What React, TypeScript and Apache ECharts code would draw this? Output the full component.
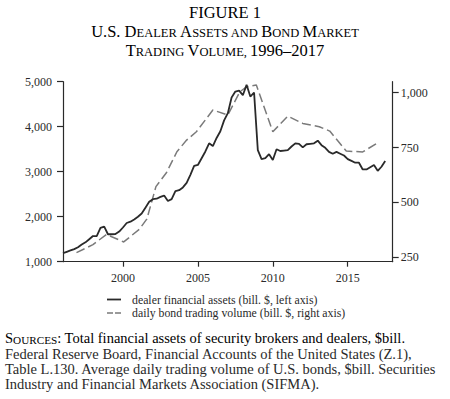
import React, { useEffect, useRef } from "react";
import * as echarts from "echarts";

// Dealer financial assets (bill. $), quarterly from 1996 Q1
const dealerStartYear = 1996;
const dealerAssets = [
  1190, 1220, 1250, 1280,
  1320, 1380, 1430, 1500,
  1570, 1570, 1750, 1780,
  1610, 1610, 1615, 1670,
  1760, 1860, 1890, 1940,
  2000, 2070, 2200, 2330,
  2390, 2400, 2440, 2470,
  2350, 2390, 2570, 2590,
  2650, 2750, 2930, 3130,
  3150, 3300, 3450, 3630,
  3570, 3750, 3900, 4140,
  4300, 4650, 4780, 4800,
  4700, 4930, 4670, 4760,
  3480, 3280, 3300, 3390,
  3260, 3500, 3460, 3470,
  3480, 3560, 3630, 3620,
  3540, 3610, 3620, 3630,
  3690, 3590, 3530, 3440,
  3400, 3440, 3400, 3360,
  3280, 3240, 3200, 3200,
  3050, 3050, 3100, 3150,
  3020, 3110, 3240,
];

// Daily bond trading volume (bill. $)
const volumeYears = [
  1996.9, 1998.0, 1998.9, 2000.05, 2001.1, 2001.6, 2002.2, 2002.9, 2003.6,
  2004.25, 2004.9, 2006.0, 2007.0, 2007.8, 2008.25, 2008.9, 2010.0, 2011.0,
  2012.0, 2013.1, 2013.8, 2014.9, 2016.0, 2017.1,
];
const volumeValues = [
  271, 308, 354, 320, 378, 425, 572, 635, 731,
  784, 822, 921, 898, 1004, 1027, 1035, 822, 893,
  860, 845, 825, 734, 730, 776,
];

const xTicks = [2000, 2005, 2010, 2015];
const rightTicks = [250, 500, 750, 1000];

const titleLines = ["FIGURE 1", "U.S. Dealer Assets and Bond Market", "Trading Volume, 1996–2017"];
const legendLabels = [
  "dealer financial assets (bill. $, left axis)",
  "daily bond trading volume (bill. $, right axis)",
];
const sourceLines = [
  "Sources: Total financial assets of security brokers and dealers, $bill.",
  "Federal Reserve Board, Financial Accounts of the United States (Z.1),",
  "Table L.130. Average daily trading volume of U.S. bonds, $bill. Securities",
  "Industry and Financial Markets Association (SIFMA).",
];

const SERIF = "'Liberation Serif', 'DejaVu Serif', serif";
const INK = "#2a2a2a";

function smallCaps(s: string): string {
  let out = "";
  let cur = "";
  let curStyle = "";
  const flush = () => {
    if (cur) out += `{${curStyle}|${cur}}`;
    cur = "";
  };
  for (const ch of s) {
    let st: string;
    if (/[a-z]/.test(ch)) st = "s";
    else if (/[A-Z0-9]/.test(ch)) st = "b";
    else st = curStyle || "b";
    if (st !== curStyle) {
      flush();
      curStyle = st;
    }
    cur += /[a-z]/.test(ch) ? ch.toUpperCase() : ch;
  }
  flush();
  return out;
}

export default function App() {
  const ref = useRef<HTMLDivElement>(null);
  useEffect(() => {
    if (!ref.current) return;
    const chart = echarts.init(ref.current, null, { renderer: "svg" });

    const dealerData = dealerAssets.map((v, i) => [dealerStartYear + i / 4, v]);
    const volumeData = volumeValues.map((v, i) => [volumeYears[i], v]);

    const titleRich = {
      b: { fontFamily: SERIF, fontSize: 16.5, color: INK, lineHeight: 18, verticalAlign: "bottom" },
      s: { fontFamily: SERIF, fontSize: 12.5, color: INK, lineHeight: 15.2, verticalAlign: "bottom" },
    };
    const srcRich = {
      b: { fontFamily: SERIF, fontSize: 14.5, color: INK, lineHeight: 16, verticalAlign: "bottom" },
      s: { fontFamily: SERIF, fontSize: 11.2, color: INK, lineHeight: 13.8, verticalAlign: "bottom" },
    };

    const titleY = [11.8, 30.9, 49.9];
    const srcY = [337, 353.5, 368.7, 383.7];

    const graphics: any[] = [];
    titleLines.forEach((t, i) => {
      graphics.push({
        type: "text",
        style: {
          text: i === 0 ? `{b|${t}}` : smallCaps(t),
          rich: titleRich,
          x: 225,
          y: titleY[i],
          align: "center",
          verticalAlign: "middle",
        },
      });
    });
    sourceLines.forEach((t, i) => {
      if (i === 0) {
        const idx = t.indexOf(":");
        graphics.push({
          type: "text",
          style: {
            text: smallCaps(t.slice(0, idx)) + `{b|${t.slice(idx)}}`,
            rich: srcRich,
            x: 5,
            y: srcY[i],
            align: "left",
            verticalAlign: "middle",
          },
        });
      } else {
        graphics.push({
          type: "text",
          style: {
            text: t,
            x: 5,
            y: srcY[i],
            align: "left",
            verticalAlign: "middle",
            fontFamily: SERIF,
            fontSize: 14.5,
            fill: INK,
          },
        });
      }
    });
    // legend
    const legY = [299.5, 313];
    graphics.push({
      type: "line",
      shape: { x1: 107, y1: legY[0], x2: 121, y2: legY[0] },
      style: { stroke: INK, lineWidth: 1.8 },
    });
    graphics.push({
      type: "line",
      shape: { x1: 107, y1: legY[1], x2: 121, y2: legY[1] },
      style: { stroke: "#7a7a7a", lineWidth: 1.5, lineDash: [6, 2] },
    });
    legendLabels.forEach((t, i) => {
      graphics.push({
        type: "text",
        style: {
          text: t,
          x: 132,
          y: legY[i],
          align: "left",
          verticalAlign: "middle",
          fontFamily: SERIF,
          fontSize: 11.8,
          fill: INK,
        },
      });
    });

    const axisLine = { show: true, lineStyle: { color: INK, width: 1.2 } };
    const axisLabelBase = { fontFamily: SERIF, fontSize: 12, color: INK };

    chart.setOption({
      animation: false,
      backgroundColor: "#ffffff",
      grid: { left: 63, right: 57.3, top: 81.7, bottom: 137.3, containLabel: false },
      xAxis: {
        type: "value",
        min: 1996,
        max: 2018,
        axisLine: { ...axisLine, onZero: false },
        axisTick: { show: true, length: 5, customValues: xTicks, lineStyle: { color: INK, width: 1.2 } },
        axisLabel: { ...axisLabelBase, customValues: xTicks, margin: 10, formatter: (v: number) => String(v) },
        splitLine: { show: false },
      },
      yAxis: [
        {
          type: "value",
          position: "left",
          min: 1000,
          max: 5000,
          interval: 1000,
          axisLine,
          axisTick: { show: true, length: 6, lineStyle: { color: INK, width: 1.2 } },
          axisLabel: {
            ...axisLabelBase,
            margin: 11,
            formatter: (v: number) => v.toLocaleString("en-US"),
          },
          splitLine: { show: false },
        },
        {
          type: "value",
          position: "right",
          min: 230,
          max: 1050,
          axisLine,
          axisTick: { show: true, length: 6, customValues: rightTicks, lineStyle: { color: INK, width: 1.2 } },
          axisLabel: {
            ...axisLabelBase,
            margin: 8,
            customValues: rightTicks,
            formatter: (v: number) => v.toLocaleString("en-US"),
          },
          splitLine: { show: false },
        },
      ],
      series: [
        {
          name: legendLabels[0],
          type: "line",
          yAxisIndex: 0,
          data: dealerData,
          symbol: "none",
          lineStyle: { color: INK, width: 1.8 },
          z: 3,
        },
        {
          name: legendLabels[1],
          type: "line",
          yAxisIndex: 1,
          data: volumeData,
          symbol: "none",
          lineStyle: { color: "#7a7a7a", width: 1.5, type: [9, 4] },
          z: 2,
        },
      ],
      graphic: graphics,
    });
    return () => chart.dispose();
  }, []);
  return (
    <div
      ref={ref}
      style={{ position: "absolute", left: 0, top: 0, width: 450, height: 399, background: "#fff" }}
    />
  );
}
